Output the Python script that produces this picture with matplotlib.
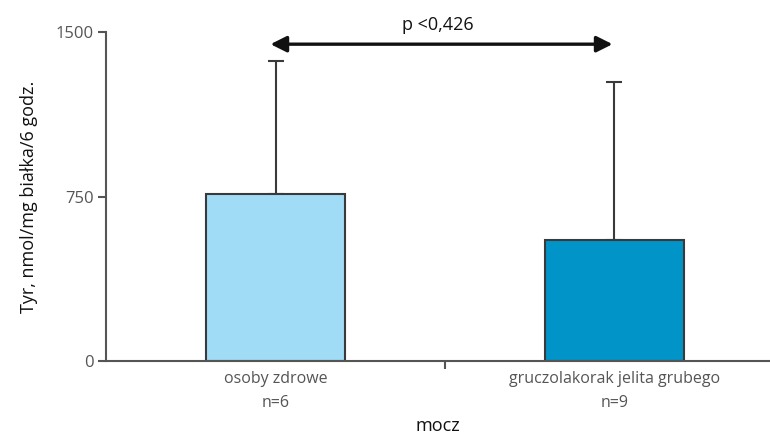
import matplotlib.pyplot as plt

# data
groups = ['osoby zdrowe\nn=6', 'gruczolakorak jelita grubego\nn=9']
means = [760, 552]
sd_upper = [608, 720]
colors = ['#a0dcf6', '#0094c9']
p_label = 'p <0,426'
y_ticks = [0, 750, 1500]

plt.rcParams['font.family'] = ['Open Sans', 'DejaVu Sans']

fig = plt.figure(figsize=(7.7, 4.34), dpi=100)
ax = fig.add_axes([0.138, 0.168, 0.862, 0.758])

x = range(len(groups))
ax.bar(x, means, width=0.41, color=colors, edgecolor='#3a3a3a', linewidth=1.5, zorder=2)
ax.errorbar(x, means, yerr=[[0, 0], sd_upper], fmt='none', ecolor='#3a3a3a',
            elinewidth=1.5, capsize=6, capthick=1.5, zorder=1)

# significance arrow
ax.annotate('', xy=(-0.015, 1445), xytext=(0.995, 1445),
            arrowprops=dict(arrowstyle='<|-|>', color='#111111', lw=2.4,
                            mutation_scale=24, shrinkA=0, shrinkB=0),
            annotation_clip=False)
ax.text(0.48, 1492, p_label, ha='center', va='bottom', fontsize=13, color='#111111')

ax.set_xlim(-0.5, 1.46)
ax.set_ylim(0, 1500)
ax.set_yticks(y_ticks)
ax.set_yticklabels([str(v) for v in y_ticks])
ax.set_xticks(list(x))
ax.set_xticklabels(groups, fontsize=11.5, color='#555555', linespacing=1.7)
ax.set_xticks([0.5], minor=True)
ax.tick_params(axis='x', which='major', length=0, pad=7)
ax.tick_params(axis='x', which='minor', length=6, width=1.5, color='#555555')
ax.tick_params(axis='y', length=6, width=1.5, color='#555555', labelsize=12,
               labelcolor='#555555', pad=3)

for side in ['top', 'right']:
    ax.spines[side].set_visible(False)
for side in ['left', 'bottom']:
    ax.spines[side].set_linewidth(1.5)
    ax.spines[side].set_color('#555555')

ax.set_ylabel('Tyr, nmol/mg białka/6 godz.', fontsize=13, color='#111111', labelpad=13)
ax.set_xlabel('mocz', fontsize=13, color='#111111', labelpad=4)

fig.savefig('out.png', dpi=100)
